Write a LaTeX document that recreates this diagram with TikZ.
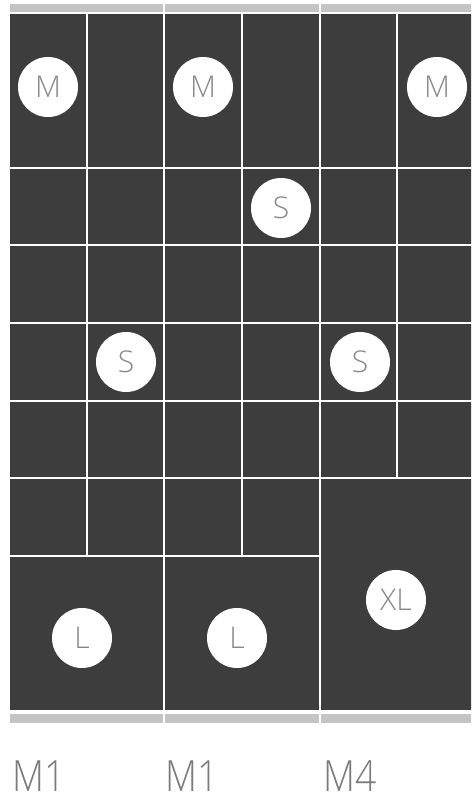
\documentclass[tikz,border=0pt]{standalone}
\usepackage{fontspec}
\setmainfont{Open Sans Light}
\usepackage{tikz}

\tikzset{
  slot/.style={circle,fill=white,minimum size=60pt,inner sep=0pt,
    text=slotgray,font=\fontsize{30}{30}\selectfont},
  lane/.style={anchor=base west,inner sep=0pt,text=lanegray,
    font=\fontsize{43}{43}\selectfont},
}

% tile at column #1, row #2, #3 columns wide, #4 rows tall
\newcommand{\tilebox}[4]{%
  \fill[tilegray] (10+#1*77.67,14+#2*77.5) rectangle
    (8+#1*77.67+#3*77.67,12+#2*77.5+#4*77.5);
}

\begin{document}
\begin{tikzpicture}[x=1pt,y=-1pt]
  \definecolor{tilegray}{RGB}{61,61,61}
  \definecolor{bargray}{RGB}{196,196,196}
  \definecolor{slotgray}{RGB}{136,136,136}
  \definecolor{lanegray}{RGB}{122,122,122}
  \useasboundingbox (0,0) rectangle (471,799);
  \clip (0,0) rectangle (471,799);
  % group bars, top and bottom
  \foreach \x/\w in {10/153.3,165.3/153.3,320.7/155.3}{%
    \fill[bargray] (\x,4) rectangle ++(\w,8.5);
    \fill[bargray] (\x,714) rectangle ++(\w,8.5);
  }
  % tall tiles
  \foreach \c in {0,...,5}{\tilebox{\c}{0}{1}{2}}
  % small tiles
  \foreach \r in {2,...,5}{%
    \foreach \c in {0,...,5}{\tilebox{\c}{\r}{1}{1}}
  }
  \foreach \c in {0,...,3}{\tilebox{\c}{6}{1}{1}}
  % large tiles
  \tilebox{0}{7}{2}{2}
  \tilebox{2}{7}{2}{2}
  \tilebox{4}{6}{2}{3}
  % sizes
  \node[slot] (m1) at (48,87) {M};
  \node[slot] (m2) at (203,87) {M};
  \node[slot] (m3) at (437,87) {M};
  \node[slot] (s1) at (281,208) {S};
  \node[slot] (s2) at (126,362) {S};
  \node[slot] (s3) at (360,362) {S};
  \node[slot] (l1) at (82,638) {L};
  \node[slot] (l2) at (237,638) {L};
  \node[slot] (xl) at (396,600) {XL};
  % group labels
  \node[lane] (g1) at (12,791) {\scalebox{0.86}[1]{M1}};
  \node[lane] (g2) at (165,791) {\scalebox{0.86}[1]{M1}};
  \node[lane] (g3) at (323,791) {\scalebox{0.86}[1]{M4}};
\end{tikzpicture}
\end{document}
